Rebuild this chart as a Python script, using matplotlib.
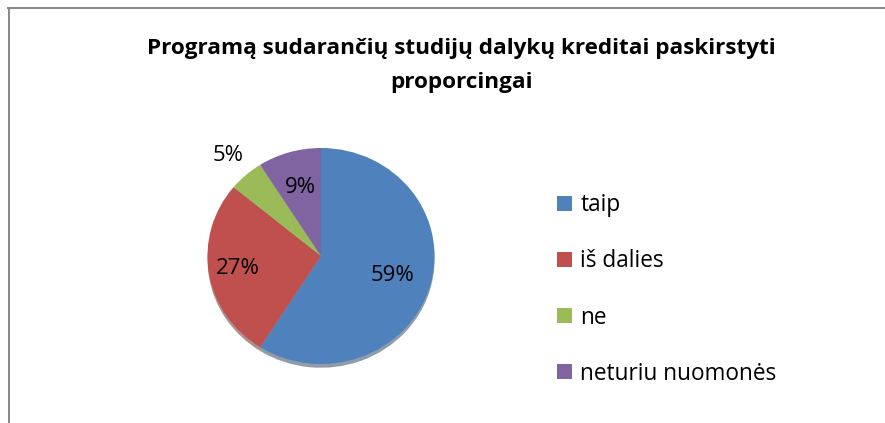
import matplotlib
matplotlib.use("Agg")
import matplotlib.pyplot as plt
from matplotlib.lines import Line2D
from matplotlib.patches import Patch
import numpy as np

plt.rcParams["font.family"] = ["Open Sans", "DejaVu Sans"]

# data
categories = ["taip", "iš dalies", "ne", "neturiu nuomonės"]
shares = [59, 27, 5, 9]
colors = ["#4F81BD", "#C0504D", "#9BBB59", "#8064A2"]
label_dist = [0.66, 0.74, 1.24, 0.66]
title = "Programą sudarančių studijų dalykų kreditai paskirstyti\nproporcingai"

W, H = 885, 423
fig = plt.figure(figsize=(W / 100, H / 100), dpi=100)

# pie axes, slightly wider than tall like the original
cx, cy, rx, ry = 321, 256, 113.5, 108
ax = fig.add_axes([(cx - 1.5 * rx) / W, (H - cy - 1.5 * ry) / H, 3 * rx / W, 3 * ry / H])
wedges, _ = ax.pie(shares, colors=colors, startangle=90, counterclock=False,
                   shadow={"ox": 0.0, "oy": -0.025, "shade": 0.55},
                   wedgeprops={"linewidth": 0})
ax.set_aspect("auto")
ax.set_xlim(-1.5, 1.5)
ax.set_ylim(-1.5, 1.5)

for w, val, d in zip(wedges, shares, label_dist):
    mid = np.deg2rad((w.theta1 + w.theta2) / 2)
    ax.text(d * np.cos(mid), d * np.sin(mid), f"{val}%", ha="center", va="center",
            fontsize=16, color="black")

fig.text(0.521, 1 - 65.5 / H, title, ha="center", va="center", fontsize=16.2,
         fontweight="bold", linespacing=1.85)

handles = [Patch(facecolor=c, edgecolor="none") for c in colors]
fig.legend(handles, categories, loc="upper left", bbox_to_anchor=(546 / W, 1 - 182 / H),
           frameon=False, fontsize=16.3, handlelength=0.65, handleheight=0.65,
           handletextpad=0.36, labelspacing=1.42, borderpad=0)

# chart area border (only top and left visible in the crop)
fig.add_artist(Line2D([8 / W, 1], [1 - 8.5 / H, 1 - 8.5 / H], color="#868686", lw=1.4))
fig.add_artist(Line2D([9 / W, 9 / W], [0, 1 - 8.5 / H], color="#868686", lw=1.4))

fig.savefig("out.png", dpi=100)
